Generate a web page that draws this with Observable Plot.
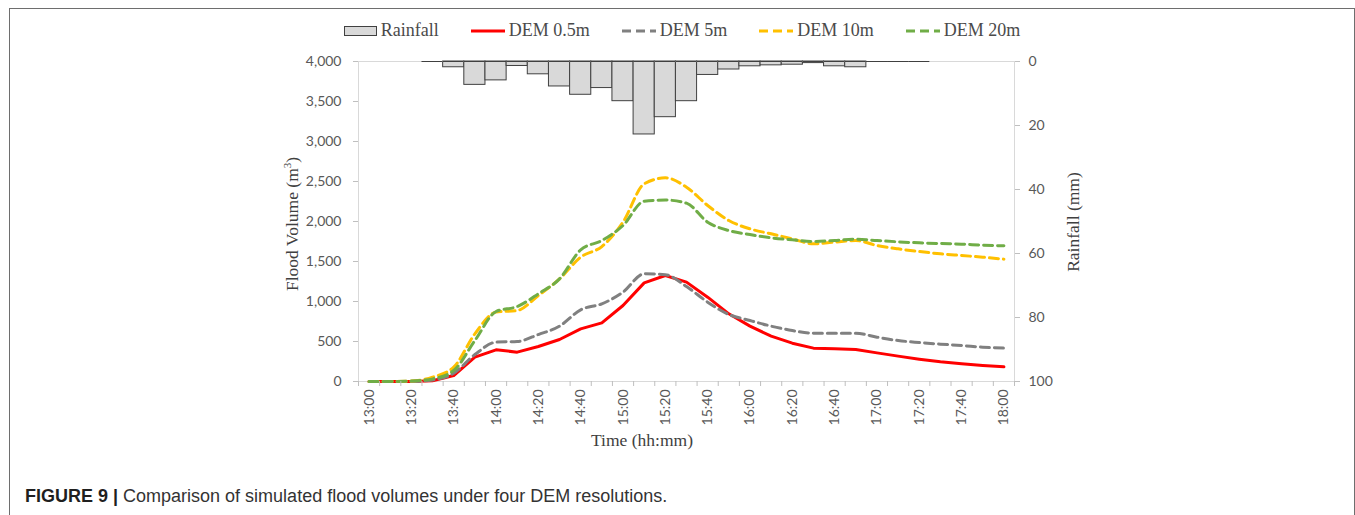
<!DOCTYPE html>
<html>
<head>
<meta charset="utf-8">
<script src="https://cdn.jsdelivr.net/npm/d3@7"></script>
<script src="https://cdn.jsdelivr.net/npm/@observablehq/plot@0.6"></script>
<style>
  body { margin: 0; background: #fff; }
  #wrap { position: relative; width: 1355px; height: 515px; overflow: hidden; background: #fff; }
  #frame { position: absolute; left: 9px; top: 8px; width: 1346px; height: 600px; box-sizing: border-box; border: 1.5px solid #6e6e6e; }
  #chart { position: absolute; left: 0; top: 0; }
  #legend { position: absolute; top: 20px; left: 0; width: 1364px; display: flex; justify-content: center; align-items: center; gap: 31px;
            font-family: "Liberation Serif", "Times New Roman", serif; font-size: 18px; color: #4a4a4a; }
  .item { display: flex; align-items: center; gap: 3px; white-space: nowrap; }
  .title { position: absolute; font-family: "Liberation Serif", "Times New Roman", serif; font-size: 17.5px; color: #404040; white-space: nowrap; }
  #caption { position: absolute; left: 25px; top: 486px; font-family: "Liberation Sans", Arial, sans-serif; font-size: 18px; color: #333; white-space: nowrap; }
  #caption b { color: #1f1f1f; }
</style>
</head>
<body>
<div id="wrap">
  <div id="frame"></div>
  <div id="chart"></div>
  <div id="legend"></div>
  <div class="title" id="ytitle" style="left:292px; top:224px; transform: translate(-50%,-50%) rotate(-90deg);">Flood Volume (m<sup style="font-size:11px">3</sup>)</div>
  <div class="title" id="y2title" style="left:1073px; top:222px; transform: translate(-50%,-50%) rotate(-90deg);">Rainfall (mm)</div>
  <div class="title" id="xtitle" style="left:642px; top:440px; transform: translate(-50%,-50%);">Time (hh:mm)</div>
  <div id="caption"><b>FIGURE 9 |</b> Comparison of simulated flood volumes under four DEM resolutions.</div>
</div>
<script>
// ---- Data ----
const times = ["13:00","13:10","13:20","13:30","13:40","13:50","14:00","14:10","14:20","14:30","14:40","14:50",
               "15:00","15:10","15:20","15:30","15:40","15:50","16:00","16:10","16:20","16:30","16:40","16:50",
               "17:00","17:10","17:20","17:30","17:40","17:50","18:00"];
const dem05 = [0,0,0,10,75,304,396,367,437,525,658,733,950,1233,1325,1242,1054,846,692,567,479,417,408,400,358,317,279,246,221,200,183];
const dem5  = [0,0,0,20,104,337,492,500,587,692,896,971,1117,1346,1335,1187,992,838,762,692,637,604,604,604,554,512,487,467,450,429,417];
const dem10 = [0,0,5,54,179,596,867,887,1075,1283,1554,1687,1992,2471,2546,2429,2200,2012,1908,1846,1783,1721,1742,1762,1700,1658,1625,1596,1575,1554,1529];
const dem20 = [0,0,5,33,137,512,875,937,1096,1283,1646,1762,1950,2254,2268,2229,1992,1887,1837,1796,1771,1750,1762,1779,1762,1746,1733,1725,1717,1704,1696];
const rainfall = [null,null,null,0,1.8,7.3,5.9,1.4,4,7.8,10.4,8.3,12.4,22.8,17.4,12.4,4.2,2.5,1.5,1.2,1,0.5,1.5,1.8,0,0,0,null,null,null,null];
const volTicks = [0,500,1000,1500,2000,2500,3000,3500,4000];
const rainTicks = [0,20,40,60,80,100];
const volMax = 4000, rainMax = 100;

const seriesDefs = [
  {name: "DEM 0.5m", values: dem05, color: "#ff0000", dash: null},
  {name: "DEM 5m",   values: dem5,  color: "#808080", dash: "9,5"},
  {name: "DEM 10m",  values: dem10, color: "#ffc000", dash: "9,5"},
  {name: "DEM 20m",  values: dem20, color: "#70ad47", dash: "9,5"}
];

const k = volMax / rainMax; // rainfall -> volume units (secondary reversed axis)
const rainData = rainfall.map((r, i) => ({i, r})).filter(d => d.r !== null);
const lineData = s => s.values.map((v, i) => ({i, v}));

const tickColor = "#bfbfbf", labelColor = "#595959", axisLine = "#d9d9d9";

const marks = [
  Plot.rect(rainData, {x1: d => d.i - 0.5, x2: d => d.i + 0.5, y1: volMax, y2: d => volMax - d.r * k,
                       fill: "#d9d9d9", stroke: "#404040", strokeWidth: 1}),
  Plot.ruleY([volMax], {stroke: axisLine, strokeWidth: 1}),
  Plot.ruleY([0], {stroke: axisLine, strokeWidth: 1}),
  Plot.ruleX([-0.5], {stroke: axisLine, strokeWidth: 1}),
  Plot.ruleX([times.length - 0.5], {stroke: axisLine, strokeWidth: 1}),
  Plot.ruleY(rainData, {x1: d => d.i - 0.5, x2: d => d.i + 0.5, y: volMax, stroke: "#404040", strokeWidth: 1})
];

for (const s of seriesDefs) {
  marks.push(Plot.line(lineData(s), {x: "i", y: "v", stroke: s.color, strokeWidth: 3,
    strokeDasharray: s.dash ?? undefined, curve: s.dash ? "monotone-x" : "linear"}));
}

marks.push(
  Plot.axisY({ticks: volTicks, tickFormat: d3.format(","), tickSize: 5, tickPadding: 12, label: null,
              stroke: tickColor, fill: labelColor}),
  Plot.axisY({anchor: "right", ticks: rainTicks.map(r => volMax - r * k), tickFormat: v => String(Math.round((volMax - v) / k)),
              tickSize: 5, tickPadding: 9, label: null, stroke: tickColor, fill: labelColor}),
  Plot.axisX({ticks: d3.range(-0.5, times.length, 1), tickFormat: () => "", tickSize: 5, label: null, stroke: tickColor}),
  Plot.axisX({ticks: times.map((t, i) => i).filter(i => i % 2 === 0), tickFormat: i => times[i], tickRotate: -90,
              tickSize: 0, tickPadding: 8, label: null, fill: labelColor})
);

const chart = Plot.plot({
  width: 1355, height: 460,
  marginLeft: 358, marginRight: 341, marginTop: 61, marginBottom: 79,
  x: {domain: [-0.5, times.length - 0.5]},
  y: {domain: [0, volMax]},
  style: {fontFamily: "Lato, 'Open Sans', sans-serif", fontSize: "14px", background: "transparent", overflow: "visible"},
  marks
});
document.getElementById("chart").appendChild(chart);

// ---- Legend ----
const legend = document.getElementById("legend");
function addItem(svg, label) {
  const el = document.createElement("div");
  el.className = "item";
  el.innerHTML = svg + `<span>${label}</span>`;
  legend.appendChild(el);
}
addItem(`<svg width="34" height="12"><rect x="0.5" y="1.5" width="32" height="9" fill="#d9d9d9" stroke="#404040" stroke-width="1"/></svg>`, "Rainfall");
for (const s of seriesDefs) {
  addItem(`<svg width="36" height="12"><line x1="1" x2="35" y1="6" y2="6" stroke="${s.color}" stroke-width="3" ${s.dash ? `stroke-dasharray="9,5"` : ""}/></svg>`, s.name);
}
</script>
</body>
</html>
